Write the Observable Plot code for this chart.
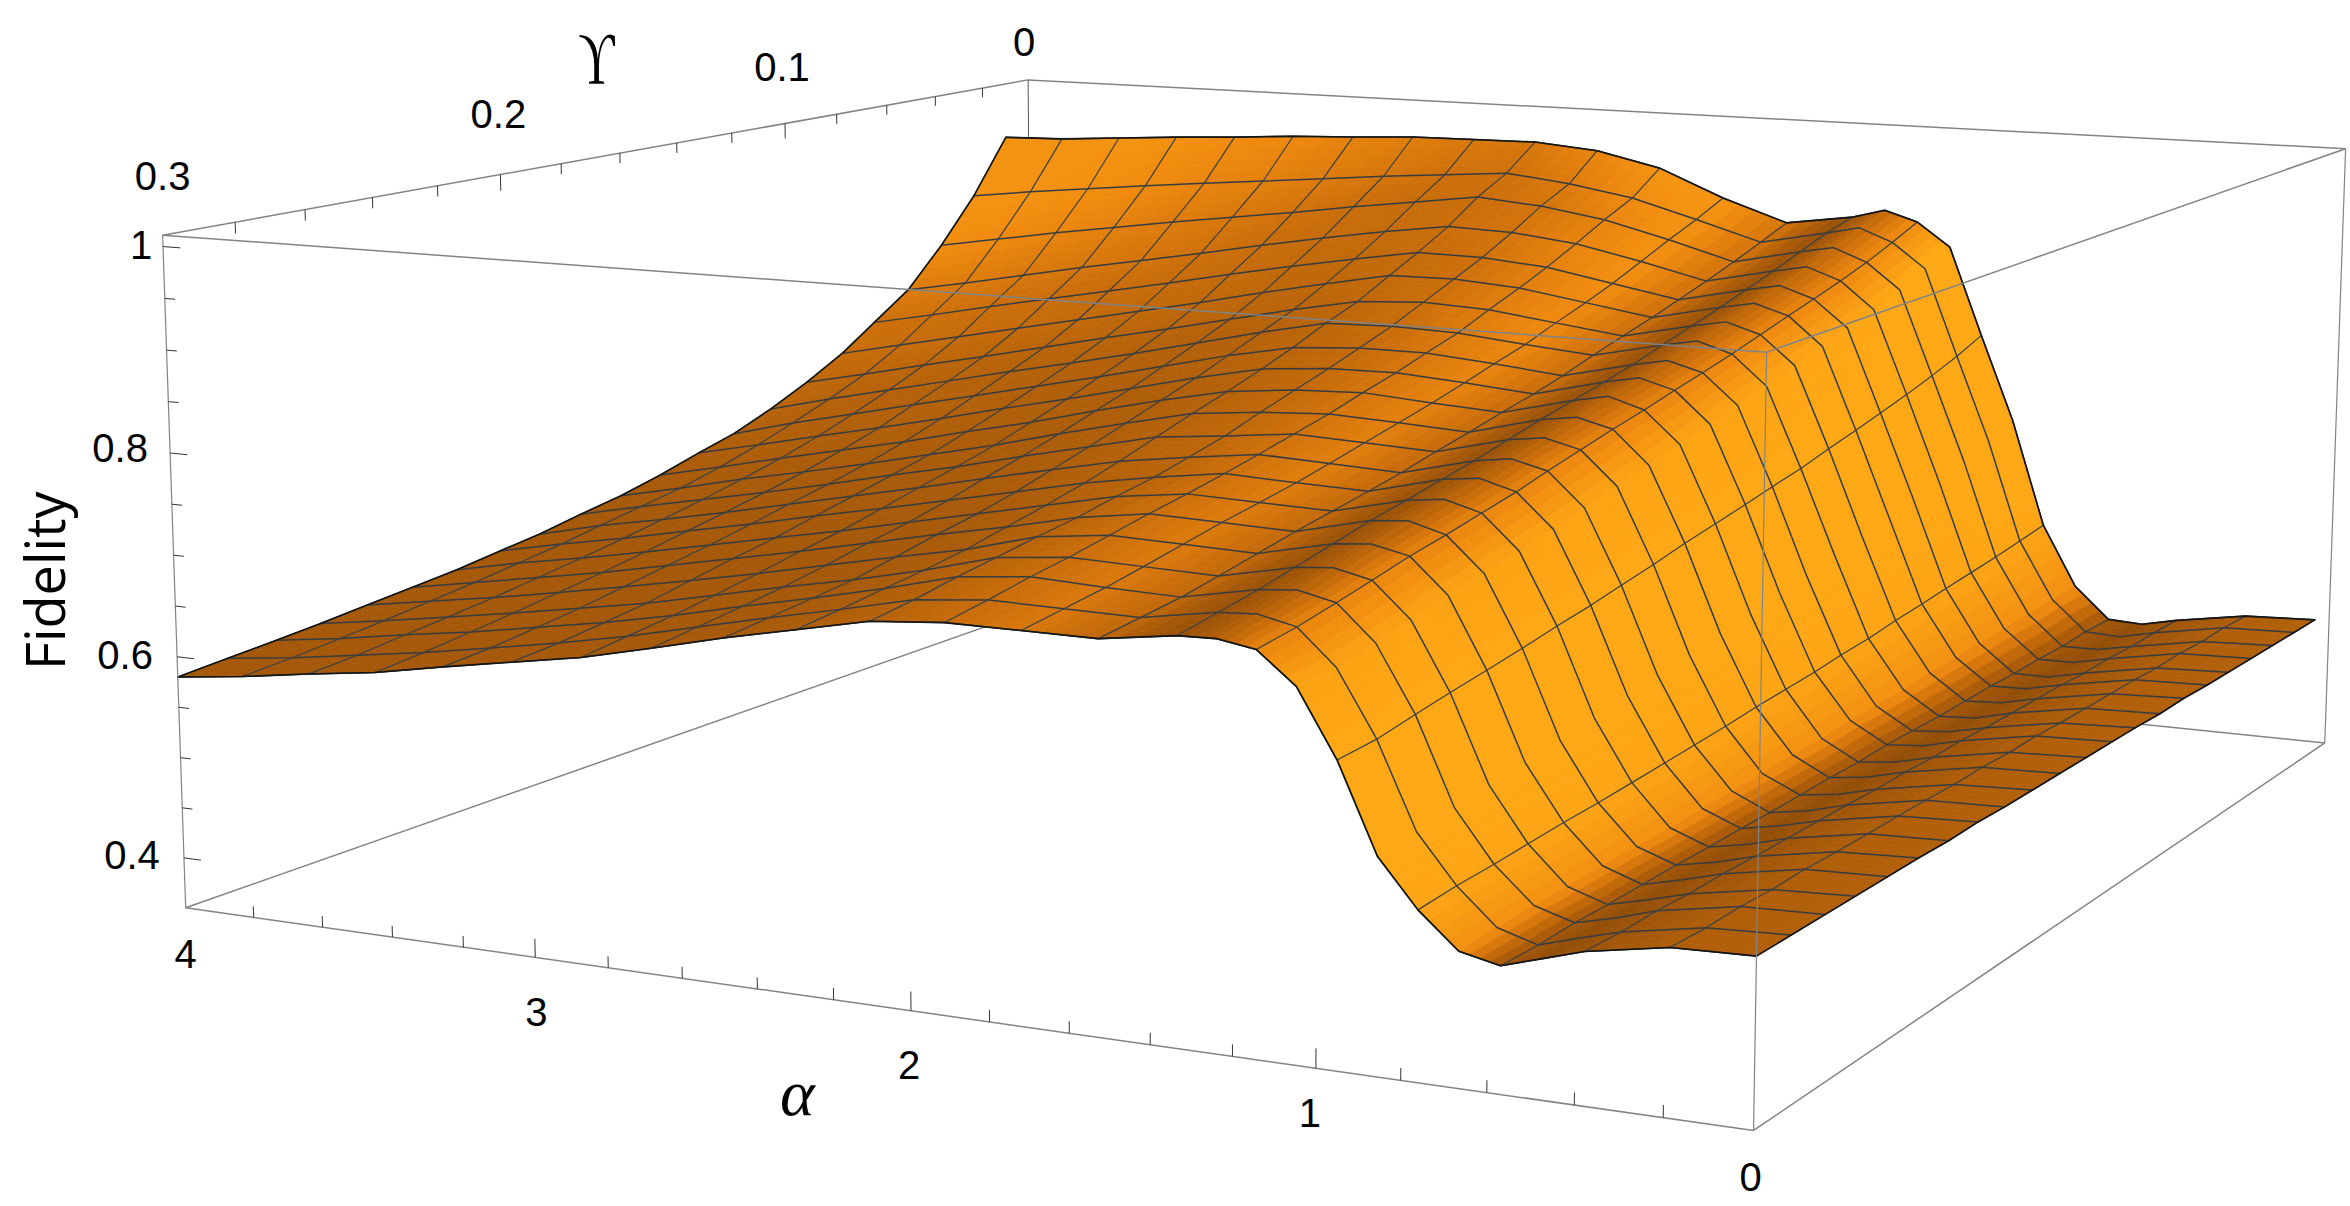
<!DOCTYPE html>
<html><head><meta charset="utf-8">
<style>html,body{margin:0;padding:0;background:#fff}svg{display:block}</style>
<script src="https://cdn.jsdelivr.net/npm/d3@7"></script>
<script src="https://cdn.jsdelivr.net/npm/@observablehq/plot@0.6"></script>
</head><body><div id="chart"></div>
<script>
// Sample positions on the surface
const alphaColumns = [0,.190,.381,.476,.571,.667,.762,.857,.952,1.048,1.143,1.238,1.333,1.524,1.714,1.905,2.095,2.286,2.476,2.667,2.857,3.048,3.238,3.429,3.619,3.810,4];
const meshAlphaColumns = [0,1,2,4,6,8,10,12,13,14,15,16,17,18,19,20,21,22,23,24,25,26];
const gammaValues = [.300,.286,.272,.259,.245,.231,.217,.203,.190,.176,.162,.148,.134,.121,.107,.093,.079,.066,.052,.038,.024,.010];
// Fidelity, one array per gamma value
const fid00 = [.501,.499,.486,.475,.464,.472,.504,.547,.628,.689,.718,.724,.723,.713,.713,.713,.707,.692,.677,.660,.644,.632,.620,.607,.598,.588,.580];
const fid01 = [.501,.498,.485,.475,.464,.475,.508,.552,.631,.691,.724,.732,.730,.718,.719,.720,.713,.697,.682,.666,.650,.636,.624,.612,.602,.592,.584];
const fid02 = [.501,.499,.486,.475,.466,.477,.510,.557,.638,.699,.732,.740,.737,.723,.725,.728,.721,.703,.687,.672,.656,.642,.630,.618,.608,.597,.588];
const fid03 = [.501,.498,.485,.475,.466,.478,.513,.563,.644,.707,.740,.748,.745,.730,.732,.734,.727,.708,.692,.678,.663,.648,.636,.624,.613,.602,.592];
const fid04 = [.501,.499,.486,.476,.467,.480,.516,.568,.650,.716,.749,.757,.754,.738,.740,.742,.734,.715,.701,.686,.671,.657,.644,.631,.619,.608,.597];
const fid05 = [.501,.498,.485,.475,.468,.481,.518,.573,.656,.723,.756,.766,.763,.746,.748,.750,.740,.724,.710,.695,.680,.666,.652,.638,.626,.614,.602];
const fid06 = [.500,.498,.485,.475,.468,.482,.521,.579,.663,.731,.764,.774,.770,.753,.755,.757,.748,.733,.718,.703,.688,.674,.660,.646,.633,.621,.607];
const fid07 = [.501,.498,.485,.476,.469,.484,.524,.585,.669,.739,.772,.782,.778,.760,.762,.765,.755,.743,.728,.713,.698,.684,.669,.655,.641,.628,.614];
const fid08 = [.500,.498,.485,.475,.469,.486,.527,.591,.676,.748,.781,.790,.785,.767,.770,.773,.764,.754,.739,.724,.708,.693,.678,.663,.649,.636,.620];
const fid09 = [.500,.497,.484,.475,.470,.487,.530,.597,.683,.757,.790,.799,.794,.776,.779,.782,.774,.767,.751,.735,.718,.703,.687,.672,.658,.644,.629];
const fid10 = [.500,.498,.485,.476,.471,.490,.534,.604,.691,.766,.799,.808,.803,.784,.788,.791,.787,.780,.764,.747,.729,.713,.697,.682,.668,.652,.637];
const fid11 = [.500,.497,.484,.475,.471,.491,.537,.610,.698,.775,.807,.818,.811,.793,.797,.802,.799,.792,.777,.760,.742,.726,.709,.694,.679,.663,.648];
const fid12 = [.500,.498,.485,.476,.473,.494,.540,.617,.705,.784,.816,.826,.819,.801,.807,.812,.811,.805,.790,.773,.756,.740,.723,.707,.692,.676,.661];
const fid13 = [.500,.497,.484,.476,.473,.495,.544,.623,.712,.793,.824,.834,.827,.810,.817,.823,.823,.818,.804,.787,.770,.754,.738,.722,.706,.690,.672];
const fid14 = [.499,.497,.484,.475,.473,.497,.547,.631,.719,.802,.833,.844,.837,.821,.827,.834,.836,.834,.819,.802,.785,.769,.754,.738,.722,.706,.689];
const fid15 = [.500,.497,.484,.476,.474,.500,.552,.638,.728,.813,.843,.854,.847,.831,.840,.849,.852,.848,.834,.818,.802,.787,.771,.755,.740,.724,.709];
const fid16 = [.499,.497,.484,.476,.475,.502,.556,.646,.736,.823,.853,.864,.857,.841,.852,.863,.868,.867,.853,.838,.822,.807,.792,.777,.762,.747,.732];
const fid17 = [.499,.496,.483,.475,.475,.504,.560,.654,.744,.833,.862,.874,.867,.851,.864,.877,.883,.884,.872,.859,.845,.830,.816,.802,.788,.773,.759];
const fid18 = [.499,.497,.484,.476,.476,.506,.564,.661,.753,.843,.872,.885,.878,.862,.879,.894,.902,.904,.894,.882,.869,.855,.842,.829,.815,.801,.788];
const fid19 = [.499,.496,.483,.476,.476,.508,.568,.671,.763,.855,.883,.897,.890,.874,.894,.912,.923,.929,.919,.909,.898,.888,.878,.867,.856,.844,.832];
const fid20 = [.499,.497,.484,.476,.478,.511,.573,.682,.774,.869,.896,.910,.902,.887,.908,.928,.940,.948,.942,.936,.929,.922,.915,.908,.900,.892,.883];
const fid21 = [.499,.496,.484,.476,.478,.512,.578,.694,.787,.884,.910,.921,.911,.900,.924,.954,.970,.976,.975,.974,.970,.967,.962,.958,.953,.948,.946];
const fidelity = [fid00,fid01,fid02,fid03,fid04,fid05,fid06,fid07,fid08,fid09,fid10,fid11,fid12,fid13,fid14,fid15,fid16,fid17,fid18,fid19,fid20,fid21];
// Shading of the surface per alpha column (0 dark brown .. 1 bright orange)
const columnShade = [.32,.30,.15,.02,.2,.8,.97,1,1,.95,.7,.38,.05,.5,.74,.58,.4,.3,.24,.22,.22,.22,.22,.22,.22,.22,.22];
const shadeDomain = [0,.25,.5,.75,1];
const shadeRange = ["#8f4c06","#a85a08","#cc6f0a","#f08a0f","#ffa815"];
// Axis ticks and labels
const zMin = .35, zMax = 1.011, alphaMax = 4, gammaMax = .3;
const zTicks = [.4,.45,.5,.55,.6,.65,.7,.75,.8,.85,.9,.95,1];
const alphaTicks = [0,.2,.4,.6,.8,1,1.2,1.4,1.6,1.8,2,2.2,2.4,2.6,2.8,3,3.2,3.4,3.6,3.8,4];
const gammaTicks = [0,.02,.04,.06,.08,.1,.12,.14,.16,.18,.2,.22,.24,.26,.28,.3];
const labelTexts = ["0","0.1","0.2","0.3","1","0.8","0.6","0.4","4","3","2","1","0"];
const labelWorld = [[4,0,zMax],[4,.1,zMax],[4,.2,zMax],[4,.3,zMax],[4,.3,1],[4,.3,.8],[4,.3,.6],[4,.3,.4],[4,.3,zMin],[3,.3,zMin],[2,.3,zMin],[1,.3,zMin],[0,.3,zMin]];
const labelOffset = [[-4,-37],[-3,-55],[-2,-59],[0,-58],[-22,0],[-50,-4],[-52,-1],[-52,-2],[0,47],[1,56],[-2,55],[-6,46],[-3,48]];

// Camera: fit a projective map to the box corners and axis ticks seen in the picture
const calibration = [
 [4,.3,zMax,160.6,234],[4,0,zMax,1029,79],[0,0,zMax,2345,148],[0,.3,zMax,1764.5,352],
 [4,.3,zMin,186,906.6],[0,.3,zMin,1753.7,1130.7],[0,0,zMin,2324.5,741.6],[4,0,zMin,1029,611],
 [4,.2,zMax,499.5,175],[4,.1,zMax,786,123],[3,.3,zMin,535,956],[2,.3,zMin,911,1009.7],[1,.3,zMin,1316,1069]];
const norm = (a,g,z)=>[a/alphaMax,g/gammaMax,(z-zMin)/(zMax-zMin)];
function solve(A,b){const n=b.length;const M=A.map((r,i)=>[...r,b[i]]);
  for(let i=0;i<n;i++){let p=i;for(let r=i+1;r<n;r++)if(Math.abs(M[r][i])>Math.abs(M[p][i]))p=r;[M[i],M[p]]=[M[p],M[i]];
    for(let r=0;r<n;r++){if(r===i)continue;const f=M[r][i]/M[i][i];for(let c=i;c<=n;c++)M[r][c]-=f*M[i][c];}}
  return M.map((r,i)=>r[n]/r[i]);}
const cam=(()=>{const rows=[],rhs=[];
  for(const [a,g,z,x0,y0] of calibration){const [u,v,w]=norm(a,g,z),x=x0/1000,y=y0/1000;
    rows.push([u,v,w,1,0,0,0,0,-u*x,-v*x,-w*x]);rhs.push(x);
    rows.push([0,0,0,0,u,v,w,1,-u*y,-v*y,-w*y]);rhs.push(y);}
  const n=11,AtA=d3.range(n).map(()=>new Array(n).fill(0)),Atb=new Array(n).fill(0);
  rows.forEach((r,k)=>{for(let i=0;i<n;i++){Atb[i]+=r[i]*rhs[k];for(let j=0;j<n;j++)AtA[i][j]+=r[i]*r[j];}});
  return solve(AtA,Atb);})();
function project(a,g,z){const [u,v,w]=norm(a,g,z);
  const d=cam[8]*u+cam[9]*v+cam[10]*w+1;
  return [1000*(cam[0]*u+cam[1]*v+cam[2]*w+cam[3])/d,1000*(cam[4]*u+cam[5]*v+cam[6]*w+cam[7])/d];}

// Shade at every table node
const nK=gammaValues.length,nC=alphaColumns.length;
function nodeLight(c,k){
  const k0=Math.max(0,k-1),k1=Math.min(nK-1,k+1);
  const tg=(fidelity[k1][c]-fidelity[k0][c])/(gammaValues[k0]-gammaValues[k1]);
  let base=columnShade[c];
  if(c>=11) base=.22+(base-.22)*(.7+.3*k/(nK-1));
  return base+Math.min(.6,.2*Math.max(0,tg-.6));
}
// Surface patches, far to near, each table cell split for smooth shading
const patches=[];let pid=0;
const n=4;
for(let k=0;k<nK-1;k++){for(let c=nC-2;c>=0;c--){
  const bil=(f,s,t)=>(1-s)*(1-t)*f(c,k)+s*(1-t)*f(c+1,k)+(1-s)*t*f(c,k+1)+s*t*f(c+1,k+1);
  const A=(cc,kk)=>alphaColumns[cc],G=(cc,kk)=>gammaValues[kk],Z=(cc,kk)=>fidelity[kk][cc];
  for(let j=0;j<n;j++)for(let i=n-1;i>=0;i--){
    const corners=[[i/n,j/n],[(i+1)/n,j/n],[(i+1)/n,(j+1)/n],[i/n,(j+1)/n],[i/n,j/n]];
    const light=bil(nodeLight,(i+.5)/n,(j+.5)/n);
    const id=pid++;
    for(const [s,t] of corners){const [x,y]=project(bil(A,s,t),bil(G,s,t),bil(Z,s,t));patches.push({id,x,y,light});}
  }
}}
// Mesh lines
const meshG=[],meshA=[];
gammaValues.forEach((g,k)=>alphaColumns.forEach((a,c)=>{const [x,y]=project(a,g,fidelity[k][c]);meshG.push({id:"g"+k,x,y});}));
meshAlphaColumns.forEach(c=>gammaValues.forEach((g,k)=>{const [x,y]=project(alphaColumns[c],g,fidelity[k][c]);meshA.push({id:"a"+c,x,y});}));
// Outline of the surface
const outline=[];
const addEdge=(cs,ks)=>{for(const k of ks)for(const c of cs){const [x,y]=project(alphaColumns[c],gammaValues[k],fidelity[k][c]);outline.push({x,y});}};
const allC=d3.range(nC),allK=d3.range(nK);
addEdge(allC,[0]);addEdge([nC-1],allK);addEdge(allC.slice().reverse(),[nK-1]);addEdge([0],allK.slice().reverse());
// Box
const corner={A:[4,.3,zMax],B:[4,0,zMax],C:[0,0,zMax],D:[0,.3,zMax],E:[4,.3,zMin],F:[0,.3,zMin],G:[0,0,zMin],H:[4,0,zMin]};
const seg=(names)=>names.map(([p,q])=>{const a=project(...corner[p]),b=project(...corner[q]);return {x1:a[0],y1:a[1],x2:b[0],y2:b[1]};});
const backEdges=seg([["A","B"],["B","C"],["H","E"],["H","G"]]);
const backVert=seg([["B","H"]]);
const frontEdges=seg([["A","D"],["D","C"],["E","F"],["F","G"]]);
const frontVert=seg([["A","E"],["D","F"],["C","G"]]);
// Ticks
const tick=(p,q)=>{const a=project(...p),b=project(...q);return {x1:a[0],y1:a[1],x2:b[0],y2:b[1]};};
const near=(v,s)=>Math.abs(v/s-Math.round(v/s))<1e-6;
const ticks=[
 ...zTicks.map(z=>tick([4,.3,z],[4-(near(z,.2)?.05:.03),.3,z])),
 ...alphaTicks.slice(1,-1).map(a=>tick([a,.3,zMin],[a,.3,zMin+(near(a,1)?.018:.011)])),
 ...gammaTicks.slice(1,-1).map(g=>tick([4,g,zMax],[4,g,zMax-(near(g,.1)?.017:.011)]))];
// Labels
const labels=labelTexts.map((text,i)=>{const [x,y]=project(...labelWorld[i]);return {text,x:x+labelOffset[i][0],y:y+labelOffset[i][1]};});
const at=(w,o)=>{const [x,y]=project(...w);return {x:x+o[0],y:y+o[1]};};
const upsilon=[{text:"ϒ",...at([4,.15,zMax],[-52,-88])}];
const alphaTitle=[{text:"α",...at([2.3,.3,zMin],[2,100])}];
const fidelityTitle=[{text:"Fidelity",...at([4,.3,.67],[-127,-5])}];

const boxColor="#808488";
const plot=Plot.plot({
  width:2350,height:1206,margin:0,
  style:{background:"#fff"},
  x:{domain:[0,2350],range:[0,2350],axis:null},
  y:{domain:[0,1206],range:[0,1206],axis:null},
  color:{type:"linear",domain:shadeDomain,range:shadeRange,clamp:true,legend:false},
  marks:[
    Plot.link(backEdges,{x1:"x1",y1:"y1",x2:"x2",y2:"y2",stroke:boxColor,strokeWidth:1.5}),
    Plot.link(backVert,{x1:"x1",y1:"y1",x2:"x2",y2:"y2",stroke:"#555",strokeWidth:1}),
    Plot.line(patches,{x:"x",y:"y",z:"id",fill:"light",stroke:"light",strokeWidth:.7,curve:"linear"}),
    Plot.line(meshG,{x:"x",y:"y",z:"id",stroke:"#363c40",strokeWidth:1.5,curve:"linear"}),
    Plot.line(meshA,{x:"x",y:"y",z:"id",stroke:"#3a4146",strokeWidth:1.2,curve:"linear"}),
    Plot.line(outline,{x:"x",y:"y",stroke:"#151515",strokeWidth:1.6,curve:"linear"}),
    Plot.link(frontEdges,{x1:"x1",y1:"y1",x2:"x2",y2:"y2",stroke:boxColor,strokeWidth:1.5}),
    Plot.link(frontVert,{x1:"x1",y1:"y1",x2:"x2",y2:"y2",stroke:boxColor,strokeWidth:1.2}),
    Plot.link(ticks,{x1:"x1",y1:"y1",x2:"x2",y2:"y2",stroke:"#333",strokeWidth:1}),
    Plot.text(labels,{x:"x",y:"y",text:"text",fontFamily:"Liberation Sans",fontSize:40,fill:"#000"}),
    Plot.text(upsilon,{x:"x",y:"y",text:"text",fontFamily:"Liberation Serif",fontSize:64,fill:"#000",className:"upsilon-title"}),
    Plot.text(alphaTitle,{x:"x",y:"y",text:"text",fontFamily:"Liberation Serif",fontStyle:"italic",fontSize:66,fill:"#000"}),
    Plot.text(fidelityTitle,{x:"x",y:"y",text:"text",fontFamily:"Open Sans",fontSize:54,rotate:-90,fill:"#000"})
  ]
});
d3.select(plot).selectAll(".upsilon-title text").each(function(){
  const t=this.getAttribute("transform")||"";this.setAttribute("transform",t+" scale(.78,1.15)");
});
document.getElementById("chart").appendChild(plot);
</script></body></html>
